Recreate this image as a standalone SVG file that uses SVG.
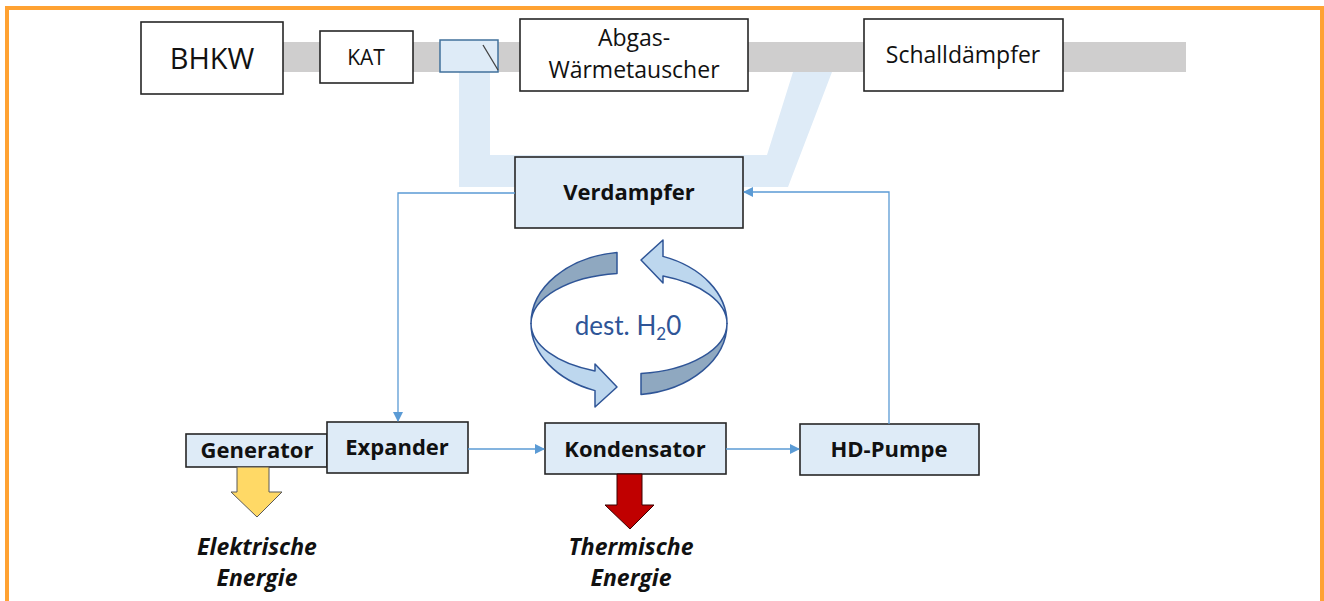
<svg xmlns="http://www.w3.org/2000/svg" width="1324" height="601" viewBox="0 0 1324 601">
<style>
  .box { stroke: #262626; stroke-width: 1.6; }
  .white { fill: #ffffff; }
  .blue { fill: #DEEBF7; }
  .t { font-family: "Open Sans", Lato, sans-serif; fill: #111; text-anchor: middle; }
  .b { font-weight: bold; }
  .bi { font-weight: bold; font-style: italic; }
  .conn { fill: none; stroke: #5B9BD5; stroke-width: 1.3; }
  .ring { stroke: #2F5597; stroke-width: 1.5; stroke-linejoin: round; }
  .dark { fill: #8FA8C0; }
  .light { fill: #BDD7EE; }
</style>
<defs>
  <marker id="arr" viewBox="0 0 10 10" refX="9" refY="5" markerWidth="10" markerHeight="10" markerUnits="userSpaceOnUse" orient="auto">
    <path d="M0,0 L10,5 L0,10 Z" fill="#5B9BD5"/>
  </marker>
</defs>
<rect width="1324" height="601" fill="#ffffff"/>
<path d="M7,601 V8 H1322 V601" fill="none" stroke="#FFA232" stroke-width="4"/>

<!-- exhaust pipe -->
<rect id="pipe" x="283" y="42" width="903" height="30" fill="#CFCECE"/>
<!-- bypass band -->
<path id="bypass" d="M459,72 V187 H788 L832,72 H793 L767,155 H490 V72 Z" fill="#DEEBF7"/>

<g id="bhkw">
  <rect class="box white" x="141" y="22" width="142" height="72"/>
  <text class="t" x="212" y="69" font-size="29">BHKW</text>
</g>
<g id="kat">
  <rect class="box white" x="320" y="31" width="93" height="52"/>
  <text class="t" x="366" y="65" font-size="21">KAT</text>
</g>
<g id="klappe">
  <rect x="440" y="40" width="58" height="32" fill="#DEEBF7" stroke="#41719C" stroke-width="1.5"/>
  <line x1="483" y1="45" x2="498" y2="70" stroke="#404040" stroke-width="1.3"/>
</g>
<g id="abgas">
  <rect class="box white" x="520" y="19" width="228" height="72"/>
  <text class="t" x="634" y="46" font-size="23">Abgas-</text>
  <text class="t" x="634" y="78" font-size="23">Wärmetauscher</text>
</g>
<g id="schalldaempfer">
  <rect class="box white" x="864" y="19" width="199" height="72"/>
  <text class="t" x="963" y="63" font-size="23">Schalldämpfer</text>
</g>

<g id="verdampfer">
  <rect class="box blue" x="515" y="157" width="228" height="71"/>
  <text class="t b" x="629" y="200" font-size="22">Verdampfer</text>
</g>
<g id="generator">
  <rect class="box blue" x="186" y="434" width="141" height="33"/>
  <text class="t b" x="257" y="458" font-size="22">Generator</text>
</g>
<g id="expander">
  <rect class="box blue" x="327" y="422" width="141" height="51"/>
  <text class="t b" x="397" y="455" font-size="22">Expander</text>
</g>
<g id="kondensator">
  <rect class="box blue" x="545" y="423" width="181" height="51"/>
  <text class="t b" x="635" y="457" font-size="22">Kondensator</text>
</g>
<g id="hdpumpe">
  <rect class="box blue" x="800" y="424" width="179" height="51"/>
  <text class="t b" x="889" y="457" font-size="22">HD-Pumpe</text>
</g>

<g id="connectors">
  <path class="conn" d="M515,193 H398 V421" marker-end="url(#arr)"/>
  <path class="conn" d="M468,449 H544" marker-end="url(#arr)"/>
  <path class="conn" d="M726,449 H799" marker-end="url(#arr)"/>
  <path class="conn" d="M889,424 V192 H744" marker-end="url(#arr)"/>
</g>

<g id="elektrisch">
  <path d="M237,467 H269 V492 H282 L257,517 L231,492 H237 Z" fill="#FFD966" stroke="#595959" stroke-width="1"/>
  <text class="t bi" x="257" y="555" font-size="23">Elektrische</text>
  <text class="t bi" x="257" y="586" font-size="23">Energie</text>
</g>
<g id="thermisch">
  <path d="M617,474 H642 V505 H654 L630,529 L605,505 H617 Z" fill="#C00000" stroke="#3a0000" stroke-width="1"/>
  <text class="t bi" x="631" y="555" font-size="23">Thermische</text>
  <text class="t bi" x="631" y="586" font-size="23">Energie</text>
</g>

<g id="kreislauf">
  <path class="ring dark" d="M617,252.5 A98,71.5 0 0 0 531,323.5 A98,50.5 0 0 1 617,273.4 Z"/>
  <path class="ring light" d="M531,323.5 A98,71.5 0 0 0 595,390.6 L595,407 L617,387 L595,364 L595,370.9 A98,50.5 0 0 1 531,323.5 Z"/>
  <path class="ring light" d="M727,323.5 A98,71.5 0 0 0 663,256.4 L663,240 L641,260 L663,283 L663,276.1 A98,50.5 0 0 1 727,323.5 Z"/>
  <path class="ring dark" d="M641,394.5 A98,71.5 0 0 0 727,323.5 A98,50.5 0 0 1 641,373.6 Z"/>
  <text x="628" y="335" font-family="Lato, 'Open Sans', sans-serif" font-size="26" fill="#2F5597" text-anchor="middle">dest. H<tspan font-size="17" dy="5">2</tspan><tspan dy="-5">0</tspan></text>
</g>
</svg>
